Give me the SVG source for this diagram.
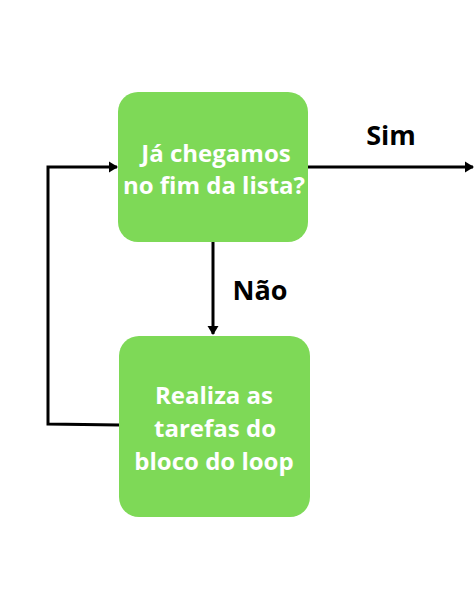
<svg xmlns="http://www.w3.org/2000/svg" width="474" height="592" viewBox="0 0 474 592">
<style>
.box{fill:#7ed957;}
.bt{font-family:"Open Sans","Liberation Sans",sans-serif;font-weight:bold;font-size:24px;fill:#ffffff;text-anchor:middle;}
.lbl{font-family:"Open Sans","Liberation Sans",sans-serif;font-weight:bold;font-size:27px;fill:#000000;text-anchor:middle;}
.ln{fill:none;stroke:#000;stroke-width:3;}
</style>
<defs>
<marker id="ah" markerWidth="12" markerHeight="12" refX="8" refY="6" orient="auto" markerUnits="userSpaceOnUse">
<path d="M0,0.5 L9,6 L0,11.5 Z" fill="#000"/>
</marker>
</defs>
<rect width="474" height="592" fill="#ffffff"/>
<g id="connectors">
<line class="ln" x1="308" y1="167" x2="473" y2="167" marker-end="url(#ah)"/>
<line class="ln" x1="213" y1="242" x2="213" y2="334" marker-end="url(#ah)"/>
<polyline class="ln" points="119,425 48,424 48,167 117,167" marker-end="url(#ah)"/>
<text class="lbl" x="391" y="145">Sim</text>
<text class="lbl" x="260" y="300">Não</text>
</g>
<g id="node-check">
<rect class="box" x="118" y="92" width="190" height="150" rx="20"/>
<text class="bt" x="216" y="162">Já chegamos</text>
<text class="bt" x="214" y="194">no fim da lista?</text>
</g>
<g id="node-loop">
<rect class="box" x="119" y="336" width="191" height="181" rx="20"/>
<text class="bt" x="214" y="404">Realiza as</text>
<text class="bt" x="215" y="437">tarefas do</text>
<text class="bt" x="214" y="470">bloco do loop</text>
</g>
</svg>
